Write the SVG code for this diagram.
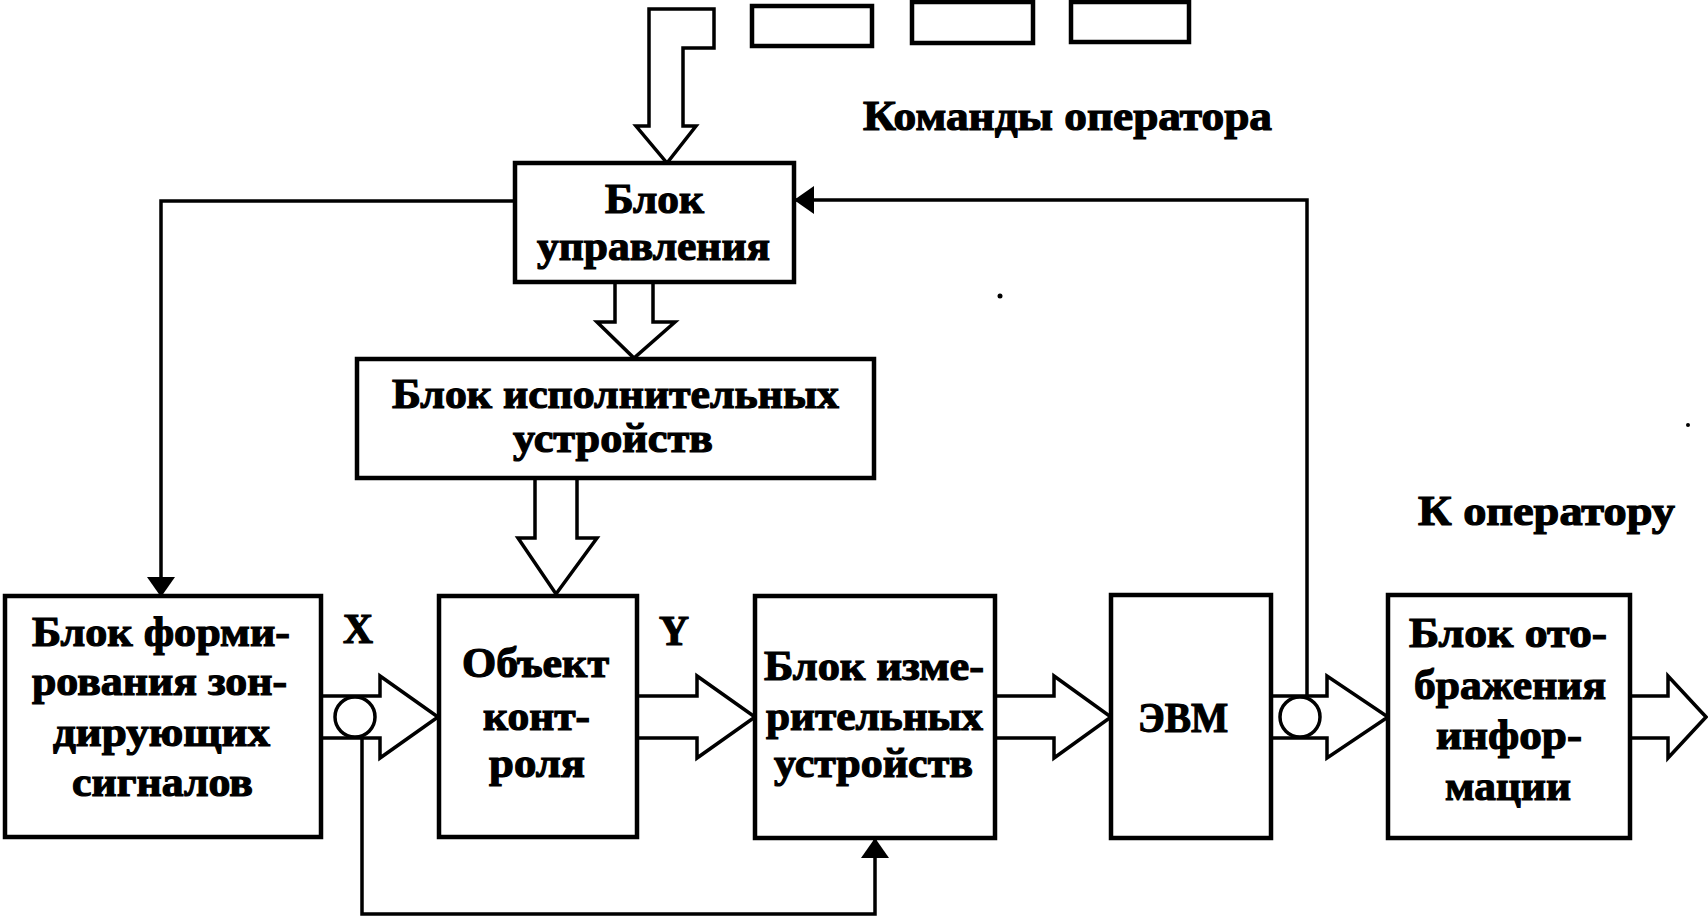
<svg xmlns="http://www.w3.org/2000/svg" width="1708" height="920" viewBox="0 0 1708 920">
<defs>
<style>
.box{fill:#fff;stroke:#000;stroke-width:4.5}
.ha{fill:#fff;stroke:#000;stroke-width:3.5;stroke-linejoin:miter}
.ln{fill:none;stroke:#000;stroke-width:3.5}
.c{fill:#fff;stroke:#000;stroke-width:3.5}
text{font-family:"Liberation Serif","Times New Roman",serif;font-weight:bold;font-size:42px;fill:#000;stroke:#000;stroke-width:1.2}
</style>
<marker id="ah" markerWidth="20" markerHeight="28" refX="19" refY="14" orient="auto" markerUnits="userSpaceOnUse">
<path d="M0,0 L20,14 L0,28 Z" fill="#000"/>
</marker>
</defs>
<rect width="1708" height="920" fill="#fff"/>

<g id="connectors">
<polygon class="ha" points="649,126 649,9 714,9 714,48 683,48 683,126 696,126 667,163 636,126"/>
<polyline class="ha" points="615,282 615,322 597,322 634,358 675,322 653,322 653,282"/>
<polyline class="ha" points="535,478 535,538 518,538 556,594 597,538 577,538 577,478"/>
<polyline class="ha" points="321,696 380,696 380,676 438,717 380,758 380,738 321,738"/>
<polyline class="ha" points="637,696 697,696 697,676 755,717 697,758 697,738 637,738"/>
<polyline class="ha" points="995,696 1054,696 1054,676 1111,717 1054,758 1054,738 995,738"/>
<polyline class="ha" points="1271,696 1327,696 1327,676 1388,717 1327,758 1327,738 1271,738"/>
<polyline class="ha" points="1630,696 1668,696 1668,676 1706,717 1668,758 1668,738 1630,738"/>
<circle class="c" cx="355" cy="717" r="20"/>
<circle class="c" cx="1300" cy="717" r="20"/>
<polyline class="ln" points="515,201 161,201 161,596" marker-end="url(#ah)"/>
<polyline class="ln" points="1307,696 1307,200 795,200" marker-end="url(#ah)"/>
<polyline class="ln" points="362,737 362,914 875,914 875,839" marker-end="url(#ah)"/>
</g>

<g id="operator-panel">
<rect class="box" x="752" y="6" width="120" height="40"/>
<rect class="box" x="912" y="2" width="121" height="41"/>
<rect class="box" x="1071" y="2" width="118" height="40"/>
</g>

<g id="label-commands">
<text x="863" y="130" textLength="409" lengthAdjust="spacingAndGlyphs">Команды оператора</text>
</g>
<g id="label-to-operator">
<text x="1418" y="525" textLength="257" lengthAdjust="spacingAndGlyphs">К оператору</text>
</g>
<g id="label-x"><text x="343" y="643" textLength="30" lengthAdjust="spacingAndGlyphs">X</text></g>
<g id="label-y"><text x="659" y="645" textLength="30" lengthAdjust="spacingAndGlyphs">Y</text></g>

<g id="control-unit">
<rect class="box" x="515" y="163" width="279" height="119"/>
<text x="605" y="213" textLength="99" lengthAdjust="spacingAndGlyphs">Блок</text>
<text x="537" y="260" textLength="233" lengthAdjust="spacingAndGlyphs">управления</text>
</g>

<g id="actuators">
<rect class="box" x="357" y="359" width="517" height="119"/>
<text x="392" y="408" textLength="447" lengthAdjust="spacingAndGlyphs">Блок исполнительных</text>
<text x="513" y="452" textLength="200" lengthAdjust="spacingAndGlyphs">устройств</text>
</g>

<g id="signal-generator">
<rect class="box" x="5" y="596" width="316" height="241"/>
<text x="32" y="646" textLength="258" lengthAdjust="spacingAndGlyphs">Блок форми-</text>
<text x="32" y="695" textLength="255" lengthAdjust="spacingAndGlyphs">рования зон-</text>
<text x="53" y="746" textLength="217" lengthAdjust="spacingAndGlyphs">дирующих</text>
<text x="72" y="796" textLength="181" lengthAdjust="spacingAndGlyphs">сигналов</text>
</g>

<g id="object">
<rect class="box" x="439" y="596" width="198" height="241"/>
<text x="462" y="677" textLength="147" lengthAdjust="spacingAndGlyphs">Объект</text>
<text x="483" y="730" textLength="107" lengthAdjust="spacingAndGlyphs">конт-</text>
<text x="489" y="777" textLength="96" lengthAdjust="spacingAndGlyphs">роля</text>
</g>

<g id="measuring">
<rect class="box" x="755" y="596" width="240" height="242"/>
<text x="764" y="680" textLength="220" lengthAdjust="spacingAndGlyphs">Блок изме-</text>
<text x="766" y="730" textLength="217" lengthAdjust="spacingAndGlyphs">рительных</text>
<text x="774" y="777" textLength="199" lengthAdjust="spacingAndGlyphs">устройств</text>
</g>

<g id="computer">
<rect class="box" x="1111" y="595" width="160" height="243"/>
<text x="1138" y="732" textLength="90" lengthAdjust="spacingAndGlyphs">ЭВМ</text>
</g>

<g id="display">
<rect class="box" x="1388" y="595" width="242" height="243"/>
<text x="1409" y="647" textLength="198" lengthAdjust="spacingAndGlyphs">Блок ото-</text>
<text x="1414" y="699" textLength="192" lengthAdjust="spacingAndGlyphs">бражения</text>
<text x="1436" y="749" textLength="146" lengthAdjust="spacingAndGlyphs">инфор-</text>
<text x="1445" y="800" textLength="126" lengthAdjust="spacingAndGlyphs">мации</text>
</g>

<g id="specks">
<circle cx="1000" cy="296" r="2.5" fill="#000"/>
<circle cx="1688" cy="425" r="2" fill="#000"/>
</g>
</svg>
